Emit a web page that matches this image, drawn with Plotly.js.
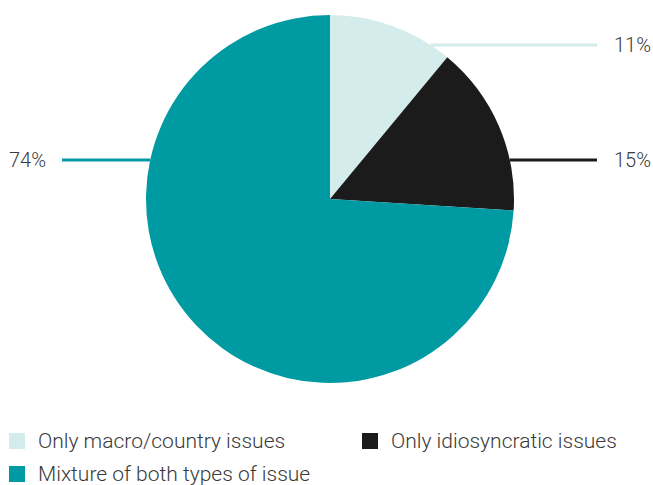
<!DOCTYPE html>
<html><head><meta charset="utf-8">
<script src="https://cdn.plot.ly/plotly-3.0.1.min.js"></script>
<style>body{margin:0;background:#fff}#c{width:653px;height:485px}</style>
</head><body><div id="c"></div>
<script>
const categories = ["Only macro/country issues", "Only idiosyncratic issues", "Mixture of both types of issue"];
const values = [11, 15, 74];
const labelsText = ["11%", "15%", "74%"];
const colors = ["#d4ecec", "#1b1b1b", "#009ba2"];

const W = 653, H = 485;
const cx = 330, cy = 199, R = 184;
const px = x => x / W, py = y => 1 - y / H;
const FONT = "Roboto, sans-serif";

const shapes = [], annotations = [];
// outside value labels with horizontal leader lines
const labelY = [45, 160, 160];
const side = [1, 1, -1];
labelY.forEach((y, i) => {
  const dx = Math.sqrt(R * R - (y - cy) * (y - cy));
  const x0 = side[i] > 0 ? cx + dx : 62;
  const x1 = side[i] > 0 ? 597 : cx - dx;
  shapes.push({type: "line", xref: "paper", yref: "paper", x0: px(x0), x1: px(x1), y0: py(y), y1: py(y),
    line: {color: colors[i], width: 3}});
  annotations.push({xref: "paper", yref: "paper", x: side[i] > 0 ? px(612) : px(48), y: py(y),
    xanchor: side[i] > 0 ? "left" : "right", yanchor: "middle", showarrow: false, text: labelsText[i],
    font: {family: FONT, size: 20, weight: 300, color: "#3a3a3a"}});
});
// legend (two columns)
categories.forEach((c, i) => {
  const col = i % 2, row = Math.floor(i / 2);
  const x = 9 + col * 353, yc = 441 + row * 33;
  shapes.push({type: "rect", xref: "paper", yref: "paper", x0: px(x), x1: px(x + 16), y0: py(yc - 8), y1: py(yc + 8),
    fillcolor: colors[i], line: {width: 0}});
  annotations.push({xref: "paper", yref: "paper", x: px(x + 27), y: py(yc), xanchor: "left", yanchor: "middle",
    showarrow: false, text: c, font: {family: FONT, size: 21, weight: 300, color: "#3a3a3a"}});
});

const data = [{
  type: "pie", labels: categories, values: values, sort: false, direction: "clockwise", rotation: 0,
  marker: {colors: colors, line: {width: 0}}, textinfo: "none", hoverinfo: "none",
  domain: {x: [px(cx - R), px(cx + R)], y: [py(cy + R), py(cy - R)]}
}];
const layout = {
  width: W, height: H, margin: {l: 0, r: 0, t: 0, b: 0}, paper_bgcolor: "#fff",
  font: {family: FONT, color: "#3a3a3a"}, showlegend: false,
  shapes: shapes, annotations: annotations
};
Plotly.newPlot("c", data, layout, {displayModeBar: false, staticPlot: true});
</script></body></html>
